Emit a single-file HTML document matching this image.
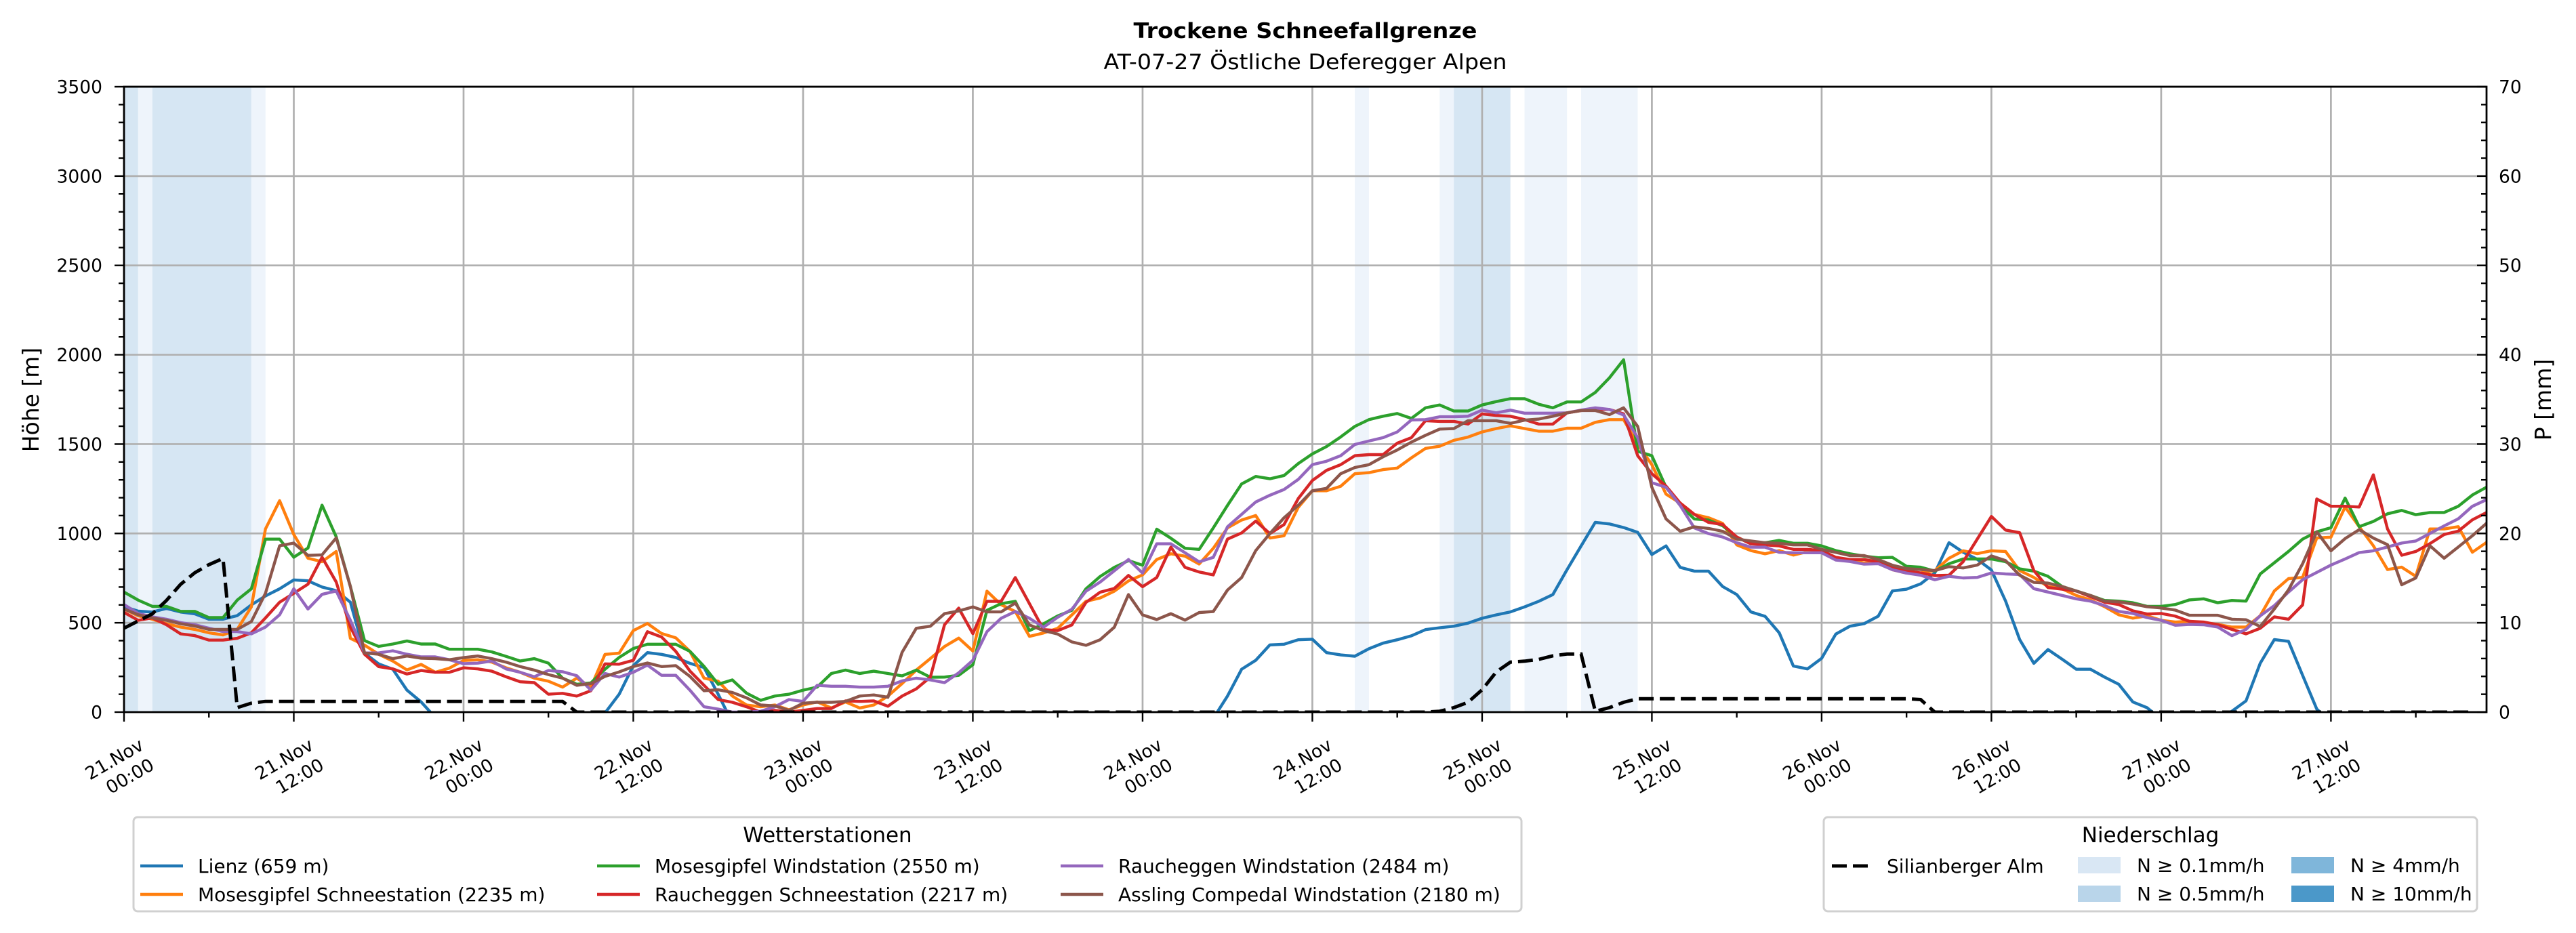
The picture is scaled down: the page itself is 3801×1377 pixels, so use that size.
<!DOCTYPE html>
<html><head><meta charset="utf-8"><style>
html,body{margin:0;padding:0;background:#fff;}
svg{display:block;font-family:"DejaVu Sans","Liberation Sans",sans-serif;}
</style></head><body>
<svg id="chart" xmlns="http://www.w3.org/2000/svg" width="3801" height="1377" viewBox="0 0 3801 1377">
<rect x="0" y="0" width="3801" height="1377" fill="#fff"/>
<defs><clipPath id="plotclip"><rect x="183" y="128" width="3486" height="923"/></clipPath></defs>
<g id="bands" clip-path="url(#plotclip)"></g>
<g id="grid"></g>
<g id="lines" clip-path="url(#plotclip)"></g>
<g id="axes"></g>
<text x="1926" y="56" text-anchor="middle" font-weight="bold" font-size="31" textLength="507" lengthAdjust="spacingAndGlyphs">Trockene Schneefallgrenze</text>
<text x="1926" y="102" text-anchor="middle" font-size="31" textLength="595" lengthAdjust="spacingAndGlyphs">AT-07-27 Östliche Deferegger Alpen</text>
<text x="0" y="0" transform="translate(57,590) rotate(-90)" text-anchor="middle" font-size="33">Höhe [m]</text>
<text x="0" y="0" transform="translate(3764,590) rotate(-90)" text-anchor="middle" font-size="33">P [mm]</text>
<g id="legend1"></g>
<g id="legend2"></g>
</svg>
<script>
var hours = 168;
var startDay = 21;
var lienz = [590,565,560,580,560,550,520,520,540,600,650,690,740,735,700,680,615,330,270,240,123,57,
-30,-100,-150,-200,-200,-200,-200,-200,-200,-150,-120,-80,-5,
100,260,333,323,306,273,250,100,-60,
-150,-200,-250,-250,-300,-300,-300,-300,-300,-300,-300,-300,-300,-300,-300,-300,-300,-300,-300,-300,-300,-300,-300,-300,-300,-300,-250,-250,-200,-200,-150,-120,-80,-35,
90,240,290,376,380,405,408,333,320,313,355,386,405,427,462,472,481,498,525,544,561,589,620,658,797,930,1062,1053,1033,1006,882,930,810,789,789,703,658,561,536,444,258,242,301,437,481,
495,537,678,688,718,779,948,895,855,795,622,406,273,350,296,240,240,196,156,57,25,-40,-100,-100,-80,-40,
5,63,273,406,396,206,17,-60,-100,-100,-100,-100,-100,-100,-100];
var mosesSchnee = [577,539,520,495,476,463,444,432,463,589,1025,1183,994,861,842,899,413,375,324,286,236,267,223,246,289,293,280,248,223,
190,173,140,190,140,323,330,456,496,440,416,340,190,173,90,40,30,40,13,40,57,23,57,23,
40,90,160,235,300,367,414,342,
677,601,563,424,443,469,544,620,639,677,734,768,854,886,873,829,917,1031,1075,1100,974,987,1146,1239,
1239,1264,1334,1340,1357,1366,1423,1476,1488,1521,1539,1568,1587,1602,1587,1572,1572,1589,1589,1622,1637,1637,1498,1385,1220,1170,1107,1088,1056,936,904,886,904,879,898,892,860,848,835,835,797,778,
779,792,861,903,887,903,899,792,754,703,690,653,628,590,545,526,539,514,504,508,501,491,476,476,539,678,747,754,975,979,1148,1038,931,798,811,760,1025,1025,1038,895,950];
var mosesWind = [672,627,592,592,564,564,529,529,627,690,968,968,867,918,1158,981,703,400,
368,381,398,381,381,352,352,352,337,312,286,299,274,
190,156,163,240,306,356,380,380,380,340,256,156,180,106,66,90,100,123,140,
216,235,216,229,216,203,235,195,196,206,265,
570,607,620,456,494,538,570,690,759,810,848,822,1024,973,917,911,1031,1157,1277,1319,1306,1324,1391,1445,
1486,1540,1599,1637,1656,1671,1644,1703,1719,1685,1685,1719,1738,1754,1754,1723,1703,1736,1736,1789,1871,1972,1460,1435,1258,1157,1081,1075,1043,980,942,948,961,945,945,930,904,886,873,864,866,816,
811,789,830,857,857,857,842,802,789,760,703,678,653,625,621,612,592,592,602,628,634,612,625,621,773,836,899,968,1009,1032,1198,1038,1067,1110,1129,1105,1117,1117,1152,1215,1259];
var rauchSchnee = [558,514,527,489,438,428,403,403,413,444,527,615,665,716,867,728,476,324,255,242,213,233,223,223,248,242,229,198,
170,165,100,105,90,120,270,268,290,450,420,340,230,150,70,55,30,0,10,0,
10,20,20,63,60,63,33,90,130,196,489,582,439,
620,620,753,607,462,456,488,614,671,692,765,702,753,923,810,784,768,968,1003,1069,999,1050,1195,1296,
1353,1385,1435,1441,1441,1505,1536,1631,1627,1627,1612,1669,1660,1656,1637,1612,1612,1675,1688,1694,1694,1669,1435,1334,1265,1170,1107,1062,1050,980,942,936,930,911,911,904,866,854,854,841,810,790,
779,764,766,842,968,1095,1019,1004,792,697,688,678,646,615,602,567,549,552,537,508,504,489,463,438,469,533,520,600,1193,1152,1152,1148,1328,1025,878,899,943,994,1013,1076,1117];
var rauchWind = [602,552,533,520,501,489,470,451,451,438,476,545,690,577,659,678,514,331,331,343,324,309,309,293,271,274,286,242,223,198,233,226,204,
123,216,196,223,263,206,206,123,30,17,0,0,5,30,70,60,150,145,145,140,140,145,175,190,180,165,220,290,
450,525,563,525,475,531,576,677,728,791,854,778,942,942,892,841,866,1037,1107,1176,1214,1246,1302,1385,
1404,1435,1498,1517,1536,1568,1635,1637,1653,1653,1656,1690,1675,1690,1673,1673,1673,1675,1690,1703,1694,1663,1536,1284,1258,1157,1031,999,980,948,923,923,894,892,892,892,851,843,828,831,797,778,
766,741,760,751,754,779,773,770,691,672,653,634,621,596,564,552,529,514,486,491,489,476,428,463,539,596,672,741,782,823,857,893,903,924,946,958,1000,1042,1082,1152,1189];
var assling = [577,545,527,514,495,482,463,463,463,507,665,931,946,877,880,975,703,331,324,299,314,302,299,293,305,314,299,280,255,
235,210,190,150,160,200,225,255,275,255,260,200,120,125,110,80,40,35,10,50,55,55,60,90,96,83,
335,469,481,551,566,589,
561,561,611,488,456,437,393,374,405,475,658,544,518,551,515,557,563,683,753,904,999,1088,1157,1239,
1252,1334,1369,1385,1429,1467,1511,1549,1584,1587,1631,1631,1631,1616,1634,1640,1656,1675,1688,1688,1665,1703,1599,1258,1081,1012,1037,1028,1012,968,958,948,945,936,936,911,894,876,876,854,822,803,
798,792,814,807,823,874,848,766,726,722,703,678,653,621,617,605,590,583,571,542,542,542,520,517,479,577,684,830,1009,903,971,1021,974,937,713,751,931,861,924,987,1057];
var precipSilian = [9.4,10.2,11.0,12.5,14.3,15.6,16.5,17.2,0.5,1.0,
1.2,1.2,1.2,1.2,1.2,1.2,1.2,1.2,1.2,1.2,1.2,1.2,1.2,1.2,1.2,1.2,1.2,1.2,1.2,1.2,1.2,1.2,
0,0,0,0,0,0,0,0,0,0,0,0,0,0,0,0,0,0,0,0,0,0,0,0,0,0,0,0,0,0,0,0,0,0,0,0,0,0,0,0,0,0,0,0,0,0,0,0,0,0,0,0,0,0,0,0,0,0,0,0,0,
0.1,0.5,1.1,2.5,4.5,5.6,5.7,5.9,6.3,6.5,6.5,0.1,0.5,1.1,1.5,
1.5,1.5,1.5,1.5,1.5,1.5,1.5,1.5,1.5,1.5,1.5,1.5,1.5,1.5,1.5,1.5,1.5,1.5,1.5,
1.4,0,0,0,0,0,0,0,0,0,0,0,0,0,0,0,0,0,0,0,0,0,0,0,0,0,0,0,0,0,0,0,0,0,0,0,0,0,0,0];
var bandStart = [0,1,2,9,87,93,94,99,103];
var bandEnd   = [1,2,9,10,88,94,98,102,107];
var bandLevel = [1,0,1,0,0,0,1,0,0];
var yTicks = [0,500,1000,1500,2000,2500,3000,3500];
var y2Ticks = [0,10,20,30,40,50,60,70];
var xTickHours = [0,12,24,36,48,60,72,84,96,108,120,132,144,156];

var NS="http://www.w3.org/2000/svg";
var L=183,R=3669,T=128,B=1051,YMAX=3500,PMAX=70,HMAX=167;
function xs(h){return L+(R-L)*h/HMAX;}
function ys(v){return B-(B-T)*v/YMAX;}
function ys2(p){return B-(B-T)*p/PMAX;}
function mk(tag,attrs,parent){var e=document.createElementNS(NS,tag);for(var k in attrs)e.setAttribute(k,attrs[k]);parent.appendChild(e);return e;}
var bandsG=document.getElementById('bands'),gridG=document.getElementById('grid'),linesG=document.getElementById('lines'),axesG=document.getElementById('axes');
var bandColors=['#eef4fb','#d6e6f3','#b9d5ea','#7fb6da','#4b98c9'];
for(var i=0;i<bandStart.length;i++){
  var r=mk('rect',{x:xs(bandStart[i]),y:T,width:xs(bandEnd[i])-xs(bandStart[i]),height:B-T,fill:bandColors[bandLevel[i]]},bandsG);
  
  
}
for(var i=0;i<yTicks.length;i++){
  var gl=mk('line',{x1:L,x2:R,y1:ys(yTicks[i]),y2:ys(yTicks[i]),stroke:'#b0b0b0','stroke-width':2.7},gridG);
  
  
}
for(var i=0;i<xTickHours.length;i++){
  var gl=mk('line',{x1:xs(xTickHours[i]),x2:xs(xTickHours[i]),y1:T,y2:B,stroke:'#b0b0b0','stroke-width':2.7},gridG);
  
  
}
var series=[[lienz,'#1f77b4','lienz-line'],[mosesSchnee,'#ff7f0e','mosesgipfel-schnee-line'],[mosesWind,'#2ca02c','mosesgipfel-wind-line'],[rauchSchnee,'#d62728','raucheggen-schnee-line'],[rauchWind,'#9467bd','raucheggen-wind-line'],[assling,'#8c564b','assling-line']];
for(var s=0;s<series.length;s++){
  var d='';var arr=series[s][0];
  for(var h=0;h<arr.length;h++){d+=(h?'L':'M')+xs(h).toFixed(1)+','+ys(arr[h]).toFixed(1);}
  var p=mk('path',{d:d,fill:'none',stroke:series[s][1],'stroke-width':4.4,'stroke-linejoin':'round'},linesG);
  
  
}
var dd='';
for(var h=0;h<precipSilian.length;h++){dd+=(h?'L':'M')+xs(h).toFixed(1)+','+ys2(precipSilian[h]).toFixed(1);}
var dp=mk('path',{d:dd,fill:'none',stroke:'#000','stroke-width':5,'stroke-dasharray':'22,9'},linesG);


var fr=mk('rect',{x:L,y:T,width:R-L,height:B-T,fill:'none',stroke:'#000','stroke-width':2.8},axesG);


for(var v=0;v<=YMAX;v+=100){
  var major=(v%500===0);
  mk('line',{x1:L-(major?14:8),x2:L,y1:ys(v),y2:ys(v),stroke:'#000','stroke-width':2.4},axesG);
}
for(var i=0;i<yTicks.length;i++){
  var t=mk('text',{x:151,y:ys(yTicks[i])+9.5,'text-anchor':'end','font-size':26.5},axesG);
  t.textContent=yTicks[i];
  
  
}
for(var p2=0;p2<=PMAX;p2+=2){
  var major=(p2%10===0);
  mk('line',{x1:R-(major?14:8),x2:R,y1:ys2(p2),y2:ys2(p2),stroke:'#000','stroke-width':2.4},axesG);
}
for(var i=0;i<y2Ticks.length;i++){
  var t=mk('text',{x:3687,y:ys2(y2Ticks[i])+9.5,'text-anchor':'start','font-size':26.5},axesG);
  t.textContent=y2Ticks[i];
  
  
}
for(var h=0;h<=HMAX;h+=6){
  var major=(h%12===0);
  mk('line',{x1:xs(h),x2:xs(h),y1:B,y2:B+(major?14:8),stroke:'#000','stroke-width':2.4},axesG);
}
for(var i=0;i<xTickHours.length;i++){
  var h=xTickHours[i];var day=startDay+Math.floor(h/24);var hh=(h%24===0)?'00:00':'12:00';
  var x=xs(h);
  var t1=mk('text',{x:0,y:0,transform:'translate('+(x-14)+',1121) rotate(-30)','text-anchor':'middle','dominant-baseline':'central','font-size':26.5},axesG);
  t1.textContent=day+'.Nov';
  
  
  var t2=mk('text',{x:0,y:0,transform:'translate('+(x+9)+',1146) rotate(-30)','text-anchor':'middle','dominant-baseline':'central','font-size':26.5},axesG);
  t2.textContent=hh;
  
  
}
var lg1=document.getElementById('legend1');
var b1=mk('rect',{x:197,y:1206,width:2048,height:139,rx:6,fill:'#fff',stroke:'#d0d0d0','stroke-width':3},lg1);


var lt1=mk('text',{x:1221,y:1243,'text-anchor':'middle','font-size':31},lg1);
lt1.textContent='Wetterstationen';


var ent=[['Lienz (659 m)','#1f77b4',207,1278],['Mosesgipfel Schneestation (2235 m)','#ff7f0e',207,1320],['Mosesgipfel Windstation (2550 m)','#2ca02c',881,1278],['Raucheggen Schneestation (2217 m)','#d62728',881,1320],['Raucheggen Windstation (2484 m)','#9467bd',1565,1278],['Assling Compedal Windstation (2180 m)','#8c564b',1565,1320]];
for(var i=0;i<ent.length;i++){
  var g=mk('g',{},lg1);
  
  
  mk('line',{x1:ent[i][2],x2:ent[i][2]+63,y1:ent[i][3],y2:ent[i][3],stroke:ent[i][1],'stroke-width':4.4},g);
  var tx=mk('text',{x:ent[i][2]+85,y:ent[i][3]+10,'font-size':28},g);
  tx.textContent=ent[i][0];
}
var lg2=document.getElementById('legend2');
var b2=mk('rect',{x:2691,y:1206,width:964,height:139,rx:6,fill:'#fff',stroke:'#d0d0d0','stroke-width':3},lg2);


var lt2=mk('text',{x:3173,y:1243,'text-anchor':'middle','font-size':31},lg2);
lt2.textContent='Niederschlag';


var gd=mk('g',{},lg2);


mk('line',{x1:2703,x2:2761,y1:1278,y2:1278,stroke:'#000','stroke-width':5,'stroke-dasharray':'22,9'},gd);
var ts=mk('text',{x:2784,y:1288,'font-size':28},gd);
ts.textContent='Silianberger Alm';
var pe=[['N ≥ 0.1mm/h','#d9e7f4',3066,1265],['N ≥ 0.5mm/h','#b9d5ea',3066,1307],['N ≥ 4mm/h','#7fb6da',3381,1265],['N ≥ 10mm/h','#4b98c9',3381,1307]];
for(var i=0;i<pe.length;i++){
  var g=mk('g',{},lg2);
  
  
  mk('rect',{x:pe[i][2],y:pe[i][3],width:63,height:24,fill:pe[i][1]},g);
  var tx=mk('text',{x:pe[i][2]+87,y:pe[i][3]+22,'font-size':28},g);
  tx.textContent=pe[i][0];
}
</script>
</body></html>
